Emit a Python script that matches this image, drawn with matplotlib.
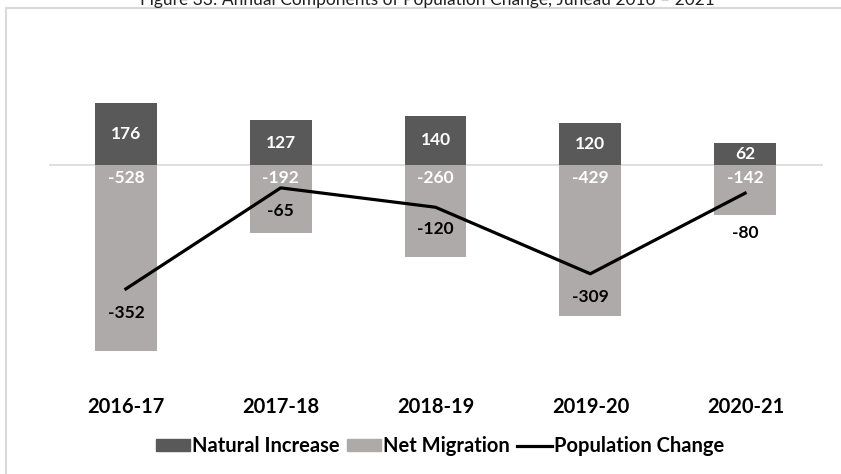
import matplotlib.pyplot as plt
from matplotlib.lines import Line2D
from matplotlib.patches import Rectangle

plt.rcParams['font.family'] = ['Lato', 'DejaVu Sans']

years = ['2016-17', '2017-18', '2018-19', '2019-20', '2020-21']
natural_increase = [176, 127, 140, 120, 62]
net_migration = [-528, -192, -260, -429, -142]
population_change = [-352, -65, -120, -309, -80]

dark = '#595959'
light = '#AEAAAA'

fig = plt.figure(figsize=(8.41, 4.74), dpi=100)

# outer chart border (only top and left edges fall inside the image)
fig.patches.append(Rectangle((5.5 / 841, -0.1), 1.2, 1 - 7.5 / 474 + 0.1,
                             transform=fig.transFigure, fill=False,
                             edgecolor='#D9D9D9', linewidth=1.5))
fig.text(0.508, 1 + 0.2 / 474, 'Figure 33: Annual Components of Population Change, Juneau 2016 \u2013 2021',
         ha='center', va='center', fontsize=12.5, color='#222222')

ax = fig.add_axes([48.5 / 841, 1 - 376.2 / 474, 774 / 841, 334.4 / 474])
x = list(range(len(years)))
ax.bar(x, natural_increase, width=0.4, color=dark, label='Natural Increase')
ax.bar(x, net_migration, width=0.4, color=light, label='Net Migration')
ax.plot(x, population_change, color='black', linewidth=2.3, label='Population Change')
ax.axhline(0, color='#D9D9D9', linewidth=1.2, zorder=0.5)

ax.set_xlim(-0.5, len(years) - 0.5)
ax.set_ylim(-600, 350)
for s in ax.spines.values():
    s.set_visible(False)
ax.set_yticks([])
ax.set_xticks([])

# category names sit well below the bars
for i, yr in enumerate(years):
    fig.text((48.5 + 155 * (i + 0.5)) / 841, 1 - 407 / 474, yr,
             ha='center', va='center', fontsize=14.5, fontweight='bold')

lbl = dict(ha='center', va='center', fontweight='bold', fontsize=12.5)
pop_offsets = [-17, -17, -16, -17, -29]
for i in x:
    ax.text(i, natural_increase[i] / 2, str(natural_increase[i]), color='white', **lbl)
    ax.annotate(str(net_migration[i]), (i, 0), xytext=(0, -9), textcoords='offset points',
                color='white', **lbl)
    ax.annotate(str(population_change[i]), (i, population_change[i]),
                xytext=(0, pop_offsets[i]), textcoords='offset points',
                color='black', **lbl)

handles = [Rectangle((0, 0), 1, 1, color=dark), Rectangle((0, 0), 1, 1, color=light),
           Line2D([], [], color='black', linewidth=2.3)]
fig.legend(handles, ['Natural Increase', 'Net Migration', 'Population Change'],
           loc='center', bbox_to_anchor=(0.523, 1 - 446 / 474), ncol=3, frameon=False,
           prop={'weight': 'bold', 'size': 14.5}, handlelength=1.7, handleheight=0.5,
           handletextpad=0.12, columnspacing=0.35)

fig.savefig('out.png', dpi=100)
